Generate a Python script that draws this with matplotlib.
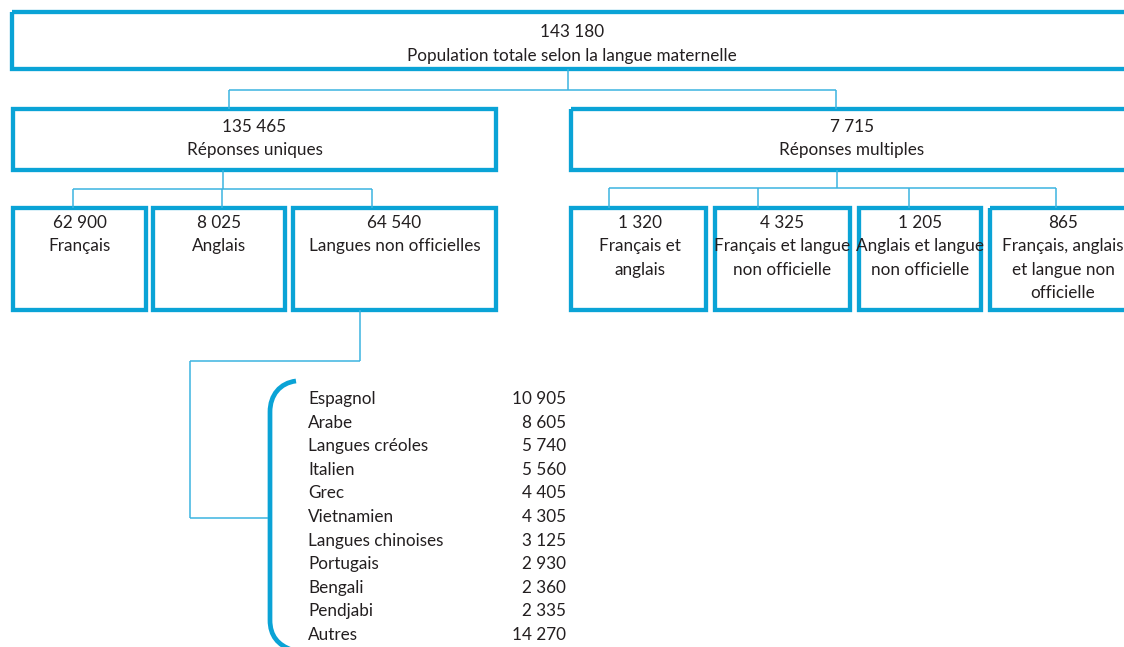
import matplotlib.pyplot as plt
from matplotlib.patches import Rectangle, PathPatch
from matplotlib.path import Path

plt.rcParams["font.family"] = ["Lato", "DejaVu Sans"]

# données
total = 143180
total_label = "Population totale selon la langue maternelle"
niveau2_labels = ["Réponses uniques", "Réponses multiples"]
niveau2_values = [135465, 7715]
uniques_labels = ["Français", "Anglais", "Langues non officielles"]
uniques_values = [62900, 8025, 64540]
multiples_labels = ["Français et\nanglais", "Français et langue\nnon officielle",
                    "Anglais et langue\nnon officielle", "Français, anglais\net langue non\nofficielle"]
multiples_values = [1320, 4325, 1205, 865]
langues = ["Espagnol", "Arabe", "Langues créoles", "Italien", "Grec", "Vietnamien",
           "Langues chinoises", "Portugais", "Bengali", "Pendjabi", "Autres"]
langues_values = [10905, 8605, 5740, 5560, 4405, 4305, 3125, 2930, 2360, 2335, 14270]

BOX = "#0aa3d6"
LINE = "#3cb4e0"
TXT = "#231f20"
FS = 12.3


def fmt(v):
    return f"{v:,}".replace(",", " ")


def boite(ax, x0, y0, x1, y1, value, label, cx=None, dy=15):
    ax.add_patch(Rectangle((x0, y0), x1 - x0, y1 - y0, fill=False, ec=BOX, lw=3.1))
    cx = (x0 + x1) / 2 if cx is None else cx
    lines = [fmt(value)] + label.split("\n")
    for i, t in enumerate(lines):
        ax.text(cx, y0 + dy + i * 23.5, t, ha="center", va="center", fontsize=FS, color=TXT)


def trait(ax, xs, ys):
    ax.plot(xs, ys, color=LINE, lw=1.1, solid_capstyle="butt")


fig = plt.figure(figsize=(11.24, 6.47), dpi=100)
ax = fig.add_axes([0, 0, 1, 1])
ax.set_xlim(0, 1124)
ax.set_ylim(647, 0)
ax.axis("off")

# niveau 1
boite(ax, 12, 12, 1136, 69, total, total_label, cx=572, dy=20)
trait(ax, [568, 568], [69, 90])
trait(ax, [229, 836], [90, 90])
trait(ax, [229, 229], [90, 109])
trait(ax, [836, 836], [90, 109])

# niveau 2
boite(ax, 13, 109, 496, 170, niveau2_values[0], niveau2_labels[0], dy=18)
boite(ax, 571, 109, 1138, 170, niveau2_values[1], niveau2_labels[1], cx=852, dy=18)

# réponses uniques
trait(ax, [223, 223], [170, 189])
trait(ax, [73, 372], [189, 189])
ux = [(13, 146), (153, 285), (293, 496)]
uc = [73, 222, 372]
for (x0, x1), c, v, lab in zip(ux, uc, uniques_values, uniques_labels):
    trait(ax, [c, c], [189, 208])
    boite(ax, x0, 208, x1, 310, v, lab)

# réponses multiples
trait(ax, [837, 837], [170, 188])
trait(ax, [609, 1056], [188, 188])
mx = [(571, 706), (715, 850), (859, 981), (990, 1138)]
mc = [609, 758, 909, 1056]
centres = [640, 782, 920, 1063]
for (x0, x1), c, cx, v, lab in zip(mx, mc, centres, multiples_values, multiples_labels):
    trait(ax, [c, c], [188, 208])
    boite(ax, x0, 208, x1, 310, v, lab, cx=cx)

# lien vers la liste des langues non officielles
trait(ax, [360, 360], [310, 361])
trait(ax, [190, 360], [361, 361])
trait(ax, [190, 190], [361, 518])
trait(ax, [190, 268], [518, 518])

# accolade
verts = [(296, 381), (280, 383), (270, 395), (270, 412),
         (270, 620), (270, 636), (278, 645), (292, 650)]
codes = [Path.MOVETO, Path.CURVE4, Path.CURVE4, Path.CURVE4,
         Path.LINETO, Path.CURVE4, Path.CURVE4, Path.CURVE4]
ax.add_patch(PathPatch(Path(verts, codes), fill=False, ec=BOX, lw=3.4, capstyle="butt"))

for i, (nom, v) in enumerate(zip(langues, langues_values)):
    y = 399 + i * 23.6
    ax.text(308, y, nom, ha="left", va="center", fontsize=FS, color=TXT)
    ax.text(566, y, fmt(v), ha="right", va="center", fontsize=FS, color=TXT)

fig.savefig("out.png", dpi=100)
plt.close(fig)
